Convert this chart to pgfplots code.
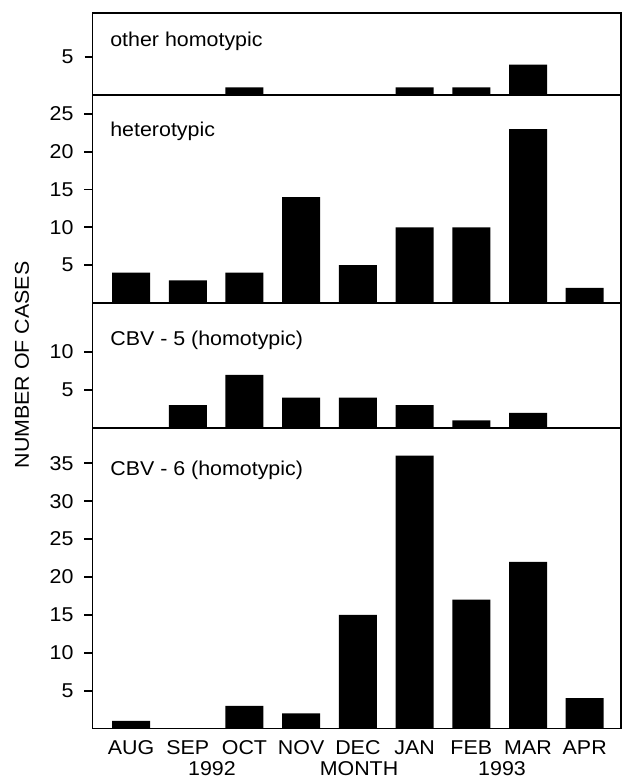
\documentclass[border=0pt]{standalone}
\usepackage{fontspec}
\setmainfont{Liberation Sans}[FakeStretch=1.07]
\usepackage{pgfplots}
\pgfplotsset{compat=1.18}
\begin{document}
\fontsize{10}{12}\selectfont
\begin{tikzpicture}[plabel/.style={anchor=west, inner sep=0pt, font=\fontsize{10}{12}\selectfont}]
\pgfplotsset{
 panel/.style={
  scale only axis, width=264.25pt, xmin=-0.68, xmax=8.64, ymin=0,
  axis line style={line width=0.9pt},
  ybar, bar width=19pt, bar shift=0pt,
  xtick=\empty, ytick pos=left, tick align=outside, major tick length=4pt,
  tick style={line width=0.9pt, black},
  /pgf/number format/assume math mode=true,
  tick label style={font=\fontsize{10}{12}\selectfont},
  yticklabel style={xshift=-2pt},
  anchor=south west,
 },
 bars/.style={fill=black, draw=none},
}
% other homotypic
\begin{axis}[panel, at={(46.25pt,342.5pt)}, height=41pt, ymax=10.8, ytick={5}]
\addplot[bars] coordinates {(0,0) (1,0) (2,1) (3,0) (4,0) (5,1) (6,1) (7,4) (8,0)};
\node[plabel] at (rel axis cs:0.033,0.659) {other homotypic};
\end{axis}
% heterotypic
\begin{axis}[panel, at={(46.25pt,238.5pt)}, height=104pt, ymax=27.5, ytick={5,10,15,20,25}]
\addplot[bars] coordinates {(0,4) (1,3) (2,4) (3,14) (4,5) (5,10) (6,10) (7,23) (8,2)};
\node[plabel] at (rel axis cs:0.033,0.827) {heterotypic};
\end{axis}
% CBV-5
\begin{axis}[panel, at={(46.25pt,176pt)}, height=62.5pt, ymax=16.45, ytick={5,10}]
\addplot[bars] coordinates {(0,0) (1,3) (2,7) (3,4) (4,4) (5,3) (6,1) (7,2) (8,0)};
\node[plabel] at (rel axis cs:0.033,0.704) {CBV - 5 (homotypic)};
\end{axis}
% CBV-6
\begin{axis}[panel, at={(46.25pt,25.75pt)}, height=150.25pt, ymax=39.66, ytick={5,10,15,20,25,30,35},
  xtick={0,1,2,3,4,5,6,7,8}, xticklabels={AUG,SEP,OCT,NOV,DEC,JAN,FEB,MAR,APR},
  xtick style={draw=none}, xticklabel style={yshift=1.5pt}]
\addplot[bars] coordinates {(0,1) (1,0) (2,3) (3,2) (4,15) (5,36) (6,17) (7,22) (8,4)};
\node[plabel] at (rel axis cs:0.033,0.86) {CBV - 6 (homotypic)};
\end{axis}
\node[inner sep=0pt] at (106pt,5.6pt) {1992};
\node[inner sep=0pt] at (179.5pt,5.6pt) {MONTH};
\node[inner sep=0pt] at (251pt,5.6pt) {1993};
\node[rotate=90] at (11pt,207.5pt) {NUMBER OF CASES};
\pgfresetboundingbox
\useasboundingbox (0,0) rectangle (311pt,390pt);
\end{tikzpicture}
\end{document}
